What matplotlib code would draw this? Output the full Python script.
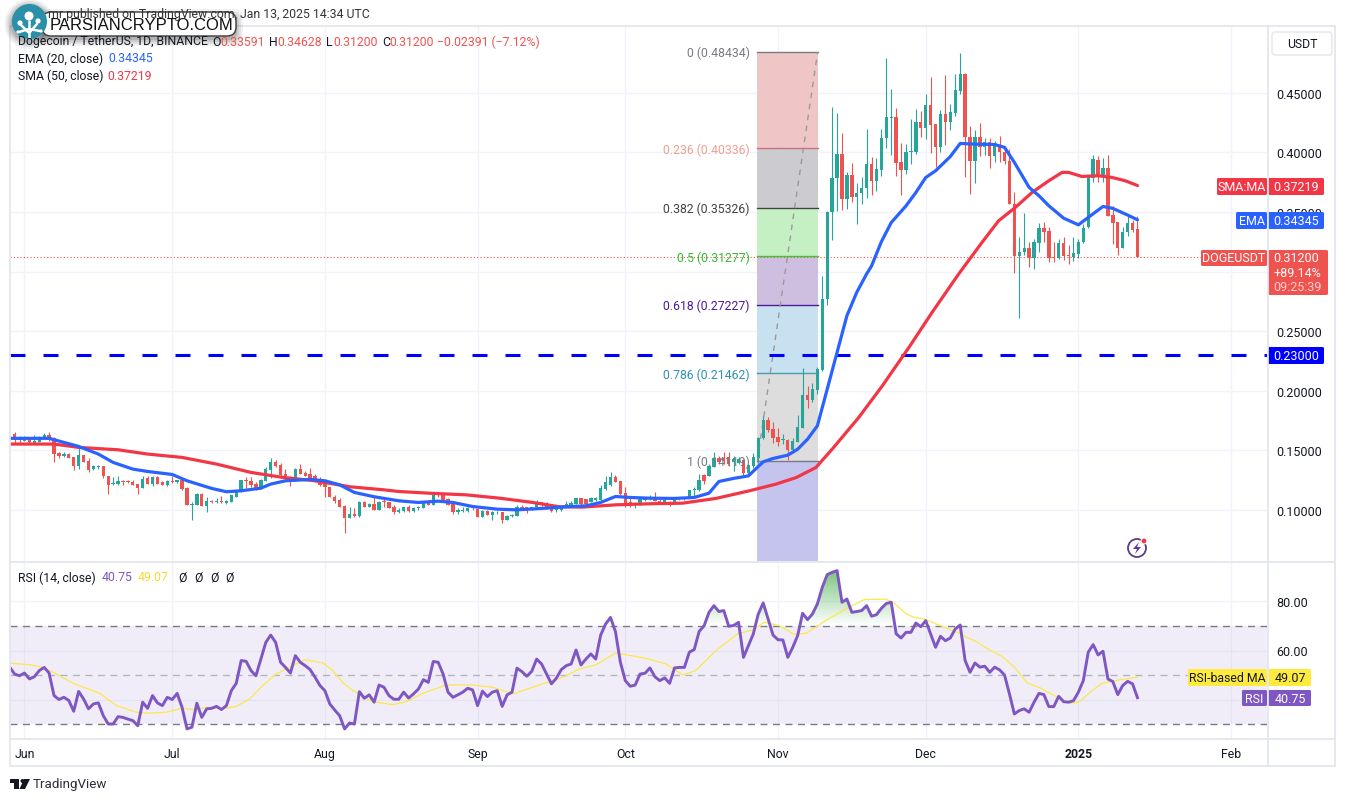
import numpy as np
import matplotlib
matplotlib.use('Agg')
import matplotlib.pyplot as plt
from matplotlib.patches import Rectangle, FancyBboxPatch, Circle, Polygon
from matplotlib.path import Path

W, H = 1345, 803
plt.rcParams['font.family'] = ['Roboto', 'DejaVu Sans']

# daily candles, day 0 is 1 Jun 2024, last one is 13 Jan 2025
first_day = -2
opens = [.1637,.1609,.1581,.1601,.1561,.1573,.1603,.1629,.1601,.1477,
         .1455,.1469,.1447,.1365,.1461,.1410,.1343,.1360,.1368,.1281,
         .1217,.1217,.1242,.1242,.1237,.1214,.1186,.1265,.1217,.1273,
         .1231,.1211,.1239,.1231,.1251,.1183,.1041,.1043,.1133,.1035,
         .1077,.1066,.1077,.1057,.1069,.1113,.1147,.1251,.1245,.1217,
         .1186,.1245,.1337,.1399,.1377,.1301,.1276,.1245,.1340,.1309,
         .1301,.1281,.1259,.1225,.1189,.1113,.1083,.1035,.0934,.0965,
         .0951,.1071,.1029,.1049,.1001,.1077,.1063,.1021,.0985,.0993,
         .1027,.0990,.1013,.1018,.1063,.1043,.1139,.1130,.1091,.1049,
         .0987,.0993,.0993,.1018,.1007,.0943,.0993,.0957,.0979,.0982,
         .0917,.0951,.0951,.1029,.1024,.1013,.1021,.1063,.1055,.1027,
         .0996,.1001,.1035,.1041,.1049,.1097,.1091,.1071,.1080,.1080,
         .1175,.1211,.1276,.1242,.1141,.1063,.1046,.1043,.1080,.1088,
         .1113,.1077,.1066,.1069,.1052,.1088,.1094,.1102,.1164,.1167,
         .1293,.1281,.1363,.1433,.1433,.1441,.1399,.1393,.1421,.1307,
         .1371,.1434,.1605,.1751,.1678,.1611,.1588,.1591,.1499,.1572,
         .1689,.1964,.1922,.2006,.2174,.2770,.3503,.3783,.3985,.3607,
         .3809,.3627,.3657,.3699,.3901,.3761,.3853,.4117,.4287,.4296,
         .3915,.3853,.3999,.4005,.4251,.4206,.4397,.4237,.4047,.4321,
         .4257,.4332,.4517,.4657,.4133,.3929,.4133,.4049,.4083,.3971,
         .4063,.4007,.3930,.3566,.3132,.3168,.3196,.3110,.3238,.3364,
         .3339,.3118,.3110,.3238,.3140,.3126,.3146,.3244,.3370,.3782,
         .3938,.3810,.3866,.3474,.3412,.3196,.3328,.3406,.33591]
highs = [.1657,.1617,.1617,.1609,.1629,.1617,.1643,.1651,.1609,.1483,
         .1483,.1477,.1447,.1517,.1461,.1433,.1377,.1377,.1371,.1287,
         .1273,.1281,.1253,.1251,.1251,.1220,.1281,.1287,.1287,.1281,
         .1242,.1251,.1287,.1253,.1259,.1189,.1063,.1141,.1141,.1113,
         .1085,.1097,.1119,.1083,.1125,.1161,.1253,.1273,.1273,.1231,
         .1259,.1357,.1435,.1421,.1393,.1343,.1281,.1351,.1385,.1323,
         .1349,.1301,.1273,.1245,.1189,.1125,.1099,.1041,.1021,.1013,
         .1077,.1077,.1055,.1105,.1077,.1097,.1069,.1043,.1015,.1029,
         .1041,.1021,.1035,.1069,.1069,.1141,.1147,.1141,.1097,.1057,
         .1013,.1021,.1027,.1027,.1013,.1001,.1001,.0993,.0993,.0987,
         .0957,.0965,.1043,.1041,.1029,.1029,.1083,.1069,.1063,.1035,
         .1027,.1041,.1077,.1074,.1097,.1097,.1091,.1105,.1105,.1209,
         .1287,.1315,.1293,.1245,.1189,.1097,.1063,.1105,.1097,.1125,
         .1147,.1091,.1111,.1077,.1113,.1113,.1113,.1169,.1189,.1301,
         .1301,.1385,.1483,.1449,.1489,.1483,.1455,.1441,.1427,.1385,
         .1477,.1616,.1790,.1776,.1734,.1684,.1636,.1594,.1600,.1796,
         .2188,.2036,.2062,.2196,.2966,.3510,.4377,.4329,.4161,.3839,
         .3909,.3747,.3797,.4195,.3957,.3949,.4195,.4791,.4531,.4369,
         .4077,.4069,.4279,.4363,.4343,.4489,.4632,.4237,.4355,.4649,
         .4405,.4657,.4833,.4665,.4217,.4189,.4245,.4119,.4119,.4097,
         .4139,.4055,.4028,.3664,.3286,.3488,.3244,.3272,.3404,.3412,
         .3370,.3244,.3272,.3286,.3224,.3286,.3272,.3398,.3812,.3978,
         .3966,.3950,.3978,.3546,.3412,.3376,.3474,.3434,.34628]
lows = [.1561,.1553,.1575,.1553,.1553,.1573,.1601,.1581,.1405,.1435,
        .1447,.1433,.1335,.1343,.1399,.1315,.1337,.1343,.1265,.1133,
        .1209,.1209,.1211,.1225,.1209,.1136,.1183,.1217,.1203,.1217,
        .1209,.1203,.1225,.1225,.1167,.1041,.0915,.1041,.1035,.0985,
        .1057,.1057,.1057,.1049,.1063,.1105,.1147,.1181,.1195,.1167,
        .1175,.1245,.1265,.1357,.1265,.1245,.1203,.1239,.1301,.1281,
        .1259,.1231,.1203,.1113,.1105,.1057,.1021,.0805,.0931,.0943,
        .0937,.1021,.1021,.1001,.0999,.1029,.1013,.0965,.0973,.0987,
        .0987,.0979,.1001,.1015,.1041,.1041,.1105,.1077,.1041,.0965,
        .0965,.0979,.0979,.0999,.0940,.0940,.0957,.0917,.0965,.0889,
        .0912,.0945,.0948,.1007,.0971,.1004,.1015,.1035,.1007,.0985,
        .0985,.0990,.1029,.1035,.1046,.1029,.1041,.1071,.1077,.1077,
        .1164,.1203,.1237,.1125,.1029,.1029,.1013,.1041,.1074,.1083,
        .1077,.1052,.1049,.1035,.1052,.1083,.1085,.1097,.1099,.1161,
        .1217,.1281,.1357,.1385,.1385,.1371,.1329,.1385,.1281,.1301,
        .1349,.1398,.1594,.1650,.1560,.1538,.1552,.1420,.1482,.1572,
        .1684,.1857,.1908,.1972,.2168,.2722,.3263,.3509,.3517,.3523,
        .3587,.3397,.3565,.3621,.3641,.3677,.3803,.4035,.3979,.3803,
        .3643,.3817,.3901,.3985,.4131,.4111,.3993,.3879,.3999,.4061,
        .4189,.4301,.4489,.3795,.3649,.3741,.3971,.3977,.3867,.3921,
        .3923,.3901,.3566,.2992,.2614,.3138,.3042,.3020,.3160,.3244,
        .3082,.3082,.3104,.3098,.3062,.3090,.3110,.3238,.3362,.3754,
        .3754,.3754,.3468,.3230,.3138,.3194,.3300,.3328,.31200]
closes = [.1589,.1589,.1606,.1567,.1581,.1609,.1631,.1595,.1469,.1455,
          .1472,.1438,.1371,.1461,.1405,.1337,.1368,.1368,.1281,.1211,
          .1225,.1242,.1234,.1237,.1211,.1186,.1259,.1217,.1273,.1220,
          .1211,.1242,.1231,.1248,.1175,.1043,.1049,.1133,.1035,.1077,
          .1063,.1074,.1063,.1074,.1122,.1153,.1251,.1242,.1209,.1181,
          .1253,.1343,.1405,.1365,.1293,.1259,.1239,.1343,.1301,.1287,
          .1270,.1245,.1211,.1189,.1111,.1077,.1029,.0931,.0965,.0951,
          .1071,.1029,.1046,.1001,.1071,.1063,.1018,.0987,.0999,.1024,
          .0993,.1015,.1024,.1063,.1043,.1122,.1125,.1083,.1043,.0979,
          .1001,.1001,.1015,.1013,.0943,.0993,.0957,.0985,.0985,.0915,
          .0948,.0957,.1027,.1015,.1004,.1021,.1063,.1046,.1015,.0990,
          .1013,.1035,.1052,.1055,.1097,.1046,.1052,.1099,.1102,.1183,
          .1231,.1279,.1237,.1133,.1041,.1046,.1057,.1097,.1088,.1113,
          .1077,.1063,.1083,.1057,.1105,.1102,.1105,.1167,.1175,.1253,
          .1245,.1365,.1433,.1405,.1413,.1385,.1427,.1427,.1307,.1377,
          .1444,.1608,.1751,.1672,.1602,.1574,.1597,.1499,.1577,.1695,
          .1964,.1922,.2014,.2182,.2770,.3503,.3789,.3985,.3607,.3809,
          .3627,.3663,.3705,.3901,.3761,.3859,.4119,.4293,.4296,.3909,
          .3853,.3999,.4010,.4251,.4206,.4397,.4229,.4047,.4321,.4251,
          .4335,.4523,.4657,.4131,.3929,.4133,.4047,.4083,.3971,.4069,
          .4005,.3929,.3566,.3132,.3168,.3194,.3110,.3244,.3364,.3328,
          .3112,.3110,.3238,.3132,.3129,.3154,.3244,.3362,.3804,.3944,
          .3804,.3866,.3468,.3406,.3196,.3328,.3404,.3348,.31200]

ema_days = [-3,5,8,11,15,18,22,25,30,33,38,41,44,48,50,53,58,61,64,67,71,76,80,84,87,91,96,100,
            105,110,114,117,120,123,127,132,136,139,141,144,147,150,152,155,157,159,161,163,165,
            167,169,171,172,174,176,179,181,183,185,188,190,193,197,199,201,204,206,208,211,214,
            216,219,221,224,226]
ema_vals = [.1601,.1601,.1567,.1533,.1469,.1399,.1343,.1323,.1298,.1245,.1181,.1153,.1161,.1183,
            .1217,.1245,.1256,.1245,.1211,.1147,.1111,.1077,.1063,.1074,.1063,.1029,.1007,.1001,
            .1013,.1027,.1035,.1063,.1113,.1105,.1099,.1097,.1105,.1141,.1239,.1265,.1286,.1404,
            .1432,.1460,.1510,.1594,.1706,.2014,.2322,.2630,.2826,.2980,.3047,.3251,.3411,.3551,
            .3663,.3789,.3845,.3965,.4075,.4069,.4066,.4042,.3916,.3706,.3636,.3552,.3448,.3392,
            .3454,.3546,.3530,.3474,.34345]
sma_days = [-3,6,11,19,25,32,39,46,52.5,59,66,73,76,83,89.7,96.5,103.2,108.6,113.3,120,126.9,133.6,
            140.4,147.2,152.6,156.7,160.7,164,169.4,174.2,179.6,184.3,189.7,194.4,197.8,201.2,
            204.6,208,210.7,212,214.7,218,220.8,223.5,226]
sma_vals = [.1553,.1553,.1525,.1505,.1469,.1441,.1385,.1315,.1273,.1245,.1195,.1169,.1155,.1139,
            .1127,.1099,.1063,.1027,.1024,.1043,.1052,.1057,.1097,.1161,.1217,.1272,.1356,.1510,
            .1776,.2042,.2364,.2658,.2980,.3243,.3426,.3538,.3664,.3762,.3832,.3832,.3798,.3804,
            .3790,.3762,.37219]

# rsi, one value a day from day -3
rsi_first = -3
rsi_vals = [53.2,50.4,49.7,50.8,48.4,49.3,51.8,53.1,50.8,41.6,40,40.9,39.6,35.2,43.3,40.2,36.2,38.2,
            38.6,33.4,30,30,33,32.7,32,31.4,29.3,38.9,36.4,41.6,38.6,37.5,40.9,40,42.5,36.8,28,28.7,
            38.5,32.7,36.2,36.4,37.2,35.9,37.5,43.6,46.6,55.9,55.6,51.8,49.7,56.5,63.3,66.3,63.3,55.2,
            53.1,50.8,57.9,55.2,53.8,52.2,49.1,45.7,43.6,38.2,35.7,33.4,28,30.4,30,43.2,40.5,41.9,38.9,
            45.9,45,41.6,40.1,40.1,43,40.6,42.3,44.3,48.1,47,55.5,55.2,50.4,43,40.9,41.9,43,44.6,43.9,
            37.5,43.4,41.2,43,43.6,37.2,41.9,43,52.8,51.4,49.5,51.5,56.5,54.5,50.4,46.4,48.7,52.2,53.8,
            54.5,60.2,54.1,56.5,58.6,56.5,66.3,70.8,73.5,67.7,55.2,47.7,45.4,45.9,50.4,50.7,52.9,49.3,
            47.7,48.8,46.6,52.9,53.1,53.1,59.3,60.4,67.8,70.1,75.6,78.3,75.9,76.3,69.9,70.2,71.5,57.2,
            62,66.8,74.9,79.4,72.9,66.3,64.4,64.3,57.2,61.3,66.1,75.2,72.6,74.9,79,85.8,91,91.9,92.6,
            79.7,81,75.6,75.9,76.3,78.3,74,74.6,77.2,79.2,79.7,66.8,65.1,67.4,67.4,71.2,69.7,72.2,66.8,
            61.3,65.8,64,65.1,68.8,70.4,55.9,51.1,54.9,53.2,53.6,51.1,53.2,52.1,50,42.3,34.1,35.5,36.2,
            34.8,38.9,42.5,42,37.1,37.1,41.3,39.1,38.9,39.5,43,47.7,59.3,62.4,58.2,59.7,48.4,47.3,42,
            45.7,47.4,46.4,40.75]
rsi_ma_days = [-2.9,1.1,3.8,5.8,9.9,15.3,18.7,22.8,25.1,28.8,31.9,34.2,36.9,40.3,43,45.7,48.4,51.1,
               54.5,56.9,60.6,62.6,64.7,66.7,70.8,74.8,77.5,80.9,85.6,90.4,95.1,99.2,103.2,109.6,
               112.7,116,120.1,126.2,130.3,133.7,136.3,140.4,144.8,147.8,150.2,153.2,156.3,158.7,
               162.7,166.8,170.5,174.9,176.6,178.9,180.6,182.7,185.4,189.4,193.5,196.2,198.5,201,
               203.6,206.3,209.7,212.4,214.1,216.5,218.8,222.5,226]
rsi_ma_vals = [54.8,54.2,53.1,51.1,46.6,42.5,37.5,34.8,34.4,34.8,36.4,35.9,36.8,36.2,37.2,40.2,45.7,
               50.4,53.8,56.3,54.9,51.8,46.8,43.6,39.1,37.9,39.1,42.5,45.9,46,45,42.3,45,49.3,52.5,
               54.1,59,56.8,54.5,50,51.8,60,66.8,68.4,71.5,70.2,66.6,67,72.2,77,80.8,81,79.3,75.2,
               73.5,72.9,70.6,67.4,63.3,60,57.6,53.2,46.8,44.7,40.9,38.5,38.9,43.2,46.6,48.1,49.07]

# fib retracement tool
fib_start, fib_end = 148.8, 161.06
fib_levels = ['0', '0.236', '0.382', '0.5', '0.618', '0.786', '1']
fib_prices = [.48434, .40336, .35326, .31277, .27227, .21462, .14119]
fib_lines = ['#787b86', '#d0707a', '#444444', '#33cc33', '#4a1a99', '#4a9ab0', '#787b86']
fib_text = ['#787b86', '#f0a090', '#444444', '#33bb33', '#4a1a99', '#2f8fb5', '#787b86']
fib_fills = ['#efc2c2', '#c9c9ce', '#c2f0c0', '#ccbcdf', '#c4e0f0', '#dcdcdc', '#c1c1ee']

support = 0.23
last_price = 0.312
# 0.30000 sits behind the last price tag, so it gets no text
price_ticks = [.10, .15, .20, .25, .30, .35, .40, .45]
price_labels = ['0.10000', '0.15000', '0.20000', '0.25000', '', '0.35000', '0.40000', '0.45000']
month_days = [0, 30, 61, 92, 122, 153, 183, 214, 245]
month_names = ['Jun', 'Jul', 'Aug', 'Sep', 'Oct', 'Nov', 'Dec', '2025', 'Feb']

UP, DOWN = '#26a69a', '#ef5350'
BLUE, RED, PURPLE = '#2962ff', '#f23645', '#7e57c2'
GRID, FRAME, DARK = '#f0f3fa', '#e4e6ee', '#131722'


def pane(top, bottom):
    return fig.add_axes([10 / W, 1 - bottom / H, 1257 / W, (bottom - top) / H])


fig = plt.figure(figsize=(W / 100, H / 100), dpi=100, facecolor='white')
ax = pane(27, 562)
ax2 = pane(563, 740)

days = np.arange(first_day, first_day + len(closes))
opens, highs, lows, closes = map(np.array, (opens, highs, lows, closes))

for a in (ax, ax2):
    a.set_xlim(-2.94, 252.3)
    a.set_xticks(month_days)
    a.grid(True, color=GRID, lw=1)
    a.set_axisbelow(True)
    a.yaxis.tick_right()
    a.tick_params(length=0, labelsize=9, labelcolor=DARK, pad=6.5)
    for s in a.spines.values():
        s.set_visible(False)

# fib blocks, last one runs out of the bottom of the pane
ax.set_ylim(.0572, .5060)
bounds = fib_prices + [.0572]
for i, name in enumerate(fib_levels):
    ax.fill_between([fib_start, fib_end], bounds[i], bounds[i + 1], color=fib_fills[i], alpha=.95, lw=0, zorder=1)
    ax.plot([fib_start, fib_end], [fib_prices[i]] * 2, color=fib_lines[i], lw=1, zorder=1.5)
    ax.annotate('%s (%.5f)' % (name, fib_prices[i]), (fib_start, fib_prices[i]), xytext=(-5.5, -.5), textcoords='offset points',
                ha='right', va='center', color=fib_text[i], fontsize=8.8, zorder=6)
ax.plot([fib_start, fib_end], [fib_prices[-1], fib_prices[0]], color='#9a9a9a', lw=1, dashes=(4, 4), zorder=1.6)

ax.axhline(support, color='#0000ff', lw=2.2, dashes=(15 / 2.2 * .72, 18 / 2.2 * .72), zorder=2)
ax.axhline(last_price, color=DOWN, lw=.8, dashes=(1, 2), zorder=2)

# candles
colors = np.where(closes >= opens, UP, DOWN)
ax.vlines(days, lows, highs, colors=colors, lw=.8, zorder=3)
ax.bar(days, np.abs(closes - opens), bottom=np.minimum(opens, closes), width=.68, color=colors, lw=0, zorder=3)

ax.plot(sma_days, sma_vals, color=RED, lw=2.3, zorder=4, solid_capstyle='round')
ax.plot(ema_days, ema_vals, color=BLUE, lw=2.3, zorder=4, solid_capstyle='round')

ax.set_yticks(price_ticks)
ax.set_yticklabels(price_labels)
ax.set_xticklabels([])

# rsi pane
ax2.set_ylim(23.88, 96.12)
rsi_days = np.arange(rsi_first, rsi_first + len(rsi_vals))
rsi_vals = np.array(rsi_vals, dtype=float)
ax2.axhspan(30, 70, color=PURPLE, alpha=.1, lw=0, zorder=1)
for lvl, col in ((70, '#787b86'), (50, '#b2b5be'), (30, '#787b86')):
    ax2.axhline(lvl, color=col, lw=1, dashes=(5, 4), zorder=2)

# green shade above 70
shade = ax2.fill_between(rsi_days, rsi_vals, 70, where=rsi_vals > 70, interpolate=True, facecolor='none', lw=0)
grad = np.zeros((64, 2, 4))
grad[..., 0], grad[..., 1], grad[..., 2] = 76 / 255, 175 / 255, 80 / 255
grad[..., 3] = np.linspace(0, .75, 64)[:, None]
im = ax2.imshow(grad, extent=(-3, 227, 70, 93), origin='lower', aspect='auto', zorder=2.5)
im.set_clip_path(Path.make_compound_path(*shade.get_paths()), transform=ax2.transData)
ax2.set_xlim(-2.94, 252.3)
ax2.set_ylim(23.88, 96.12)

ax2.plot(rsi_ma_days, rsi_ma_vals, color='#fde74c', lw=.9, zorder=3)
ax2.plot(rsi_days, rsi_vals, color=PURPLE, lw=2.1, zorder=4)
ax2.set_yticks([80, 60, 40])
ax2.set_yticklabels(['80.00', '60.00', ''])
ax2.set_xticklabels(month_names)
ax2.tick_params(axis='x', pad=5.5, labelsize=8.8)
ax2.get_xticklabels()[7].set_fontweight('bold')

# everything else sits on a full figure overlay in pixels
ov = fig.add_axes([0, 0, 1, 1], zorder=10)
ov.set_xlim(0, W)
ov.set_ylim(H, 0)
ov.axis('off')
ov.patch.set_alpha(0)


def label(x, y, s, color=DARK, size=8.8, ha='left', **kw):
    ov.text(x, y, s, color=color, fontsize=size, ha=ha, va='center', **kw)


def box(x0, x1, y0, y1, color):
    ov.add_patch(FancyBboxPatch((x0 + 1, y0 + 1), x1 - x0 - 2, y1 - y0 - 2, boxstyle='round,pad=1,rounding_size=1.5',
                                fc=color, ec='none'))


# frame
ov.add_patch(Rectangle((10, 27), 1325, 740, fc='none', ec=FRAME, lw=1.3))
ov.plot([10, 1335], [562.5, 562.5], color=FRAME, lw=1.3)
ov.plot([10, 1335], [740, 740], color=FRAME, lw=1.3)
ov.plot([1267.5, 1267.5], [27, 767], color=FRAME, lw=1.3)

# header and legends
label(370, 14.5, 'mr published on TradingView.com, Jan 13, 2025 14:34 UTC', ha='right', color='#333333')
label(18, 42, 'Dogecoin / TetherUS, 1D, BINANCE')
for x, s in ((212, 'O'), (269, 'H'), (326, 'L'), (382, 'C')):
    label(x, 42, s)
for x, s in ((220, '0.33591'), (277, '0.34628'), (333, '0.31200'), (389, '0.31200'), (437, '\u22120.02391 (\u22127.12%)')):
    label(x, 42, s, color=DOWN)
label(18, 59, 'EMA (20, close)')
label(108, 59, '0.34345', color=BLUE)
label(18, 76, 'SMA (50, close)')
label(107, 76, '0.37219', color=RED)
label(18, 578, 'RSI (14, close)')
label(102, 578, '40.75', color=PURPLE)
label(138, 578, '49.07', color='#fdd835')
for x in (178, 194, 210, 225):
    label(x, 578, '\u00d8')

# price scale tags
ov.add_patch(FancyBboxPatch((1272, 33), 60, 23, boxstyle='round,pad=0,rounding_size=3', fc='white', ec=FRAME, lw=1))
label(1302, 44.5, 'USDT', ha='center')
tag = dict(ha='center', color='white', size=9)
box(1217, 1267, 179, 196, RED)
box(1268, 1324, 179, 196, RED)
label(1242, 187.5, 'SMA:MA', **tag)
label(1296, 187.5, '0.37219', **tag)
box(1236, 1267, 213, 230, BLUE)
box(1268, 1324, 213, 230, BLUE)
label(1251.5, 221.5, 'EMA', **tag)
label(1296, 221.5, '0.34345', **tag)
box(1201, 1267, 251, 267, DOWN)
box(1268, 1328, 251, 296, DOWN)
label(1234, 259, 'DOGEUSDT', **tag)
label(1296, 259, '0.31200', **tag)
label(1297, 273.5, '+89.14%', **tag)
label(1297, 288, '09:25:39', ha='center', color='#fbd0d0', size=9)
box(1268, 1324, 348, 365, '#0000ff')
label(1296, 356.5, '0.23000', **tag)
box(1188, 1267, 670, 687, '#ffeb3b')
box(1268, 1311, 670, 687, '#ffeb3b')
label(1227.5, 678.5, 'RSI-based MA', ha='center')
label(1290, 678.5, '49.07', ha='center', size=9)
box(1242, 1267, 691, 707, PURPLE)
box(1268, 1311, 691, 707, PURPLE)
label(1254.5, 699.5, 'RSI', **tag)
label(1290, 699.5, '40.75', **tag)

# bolt icon on the price pane
ov.add_patch(Circle((1137, 549), 9, fc='white', ec='#5d3a8e', lw=1.3))
ov.add_patch(Polygon([(1139, 543), (1133, 550), (1137, 550), (1135, 555), (1141, 548), (1137, 548)], fc='#5d3a8e', ec='none'))
ov.add_patch(Circle((1144, 542), 3, fc=RED, ec='white', lw=.8))

# tradingview footer
ov.add_patch(Polygon([(10, 780), (19, 780), (19, 790), (14, 790), (14, 784), (10, 784)], fc=DARK, ec='none'))
ov.add_patch(Circle((22.5, 782), 2, fc=DARK, ec='none'))
ov.add_patch(Polygon([(24, 780), (30, 780), (25, 790), (19.5, 790)], fc=DARK, ec='none'))
label(33, 785, 'TradingView', size=9.6, color='#2a2e39')

# watermark
for grow, alpha in ((7, .05), (5, .07), (3, .09), (1, .12)):
    ov.add_patch(FancyBboxPatch((42 - grow, 14 - grow + 3), 194 + 2 * grow, 23 + 2 * grow, boxstyle='round,pad=0,rounding_size=9',
                                fc='black', ec='none', alpha=alpha))
    ov.add_patch(Circle((29.5, 25), 18 + grow, fc='black', ec='none', alpha=alpha))
ov.add_patch(FancyBboxPatch((42, 13), 194, 24, boxstyle='round,pad=0,rounding_size=9', fc='white', ec='#3a3a3a', lw=1))
ov.text(50, 25.5, 'PARSIANCRYPTO.COM', family='Liberation Sans', fontsize=12, color='#111111', va='center', ha='left')
ov.add_patch(Circle((29.5, 22.5), 17.5, fc='#2a8fa8', ec='none'))
for pts in ([(29, 38), (29, 22)], [(28, 33), (21, 26)], [(30, 33), (37, 25)], [(29, 30), (19, 33)], [(29, 30), (40, 32)]):
    ov.plot(*zip(*pts), color='white', lw=1.8, solid_capstyle='round')
for cx, cy, r in ((29, 17, 4.5), (20, 24, 2.6), (38, 22, 2.6), (18, 33, 1.6), (41, 32, 1.6)):
    ov.add_patch(Circle((cx, cy), r, fc='white', ec='none'))

fig.savefig('out.png', dpi=100)
